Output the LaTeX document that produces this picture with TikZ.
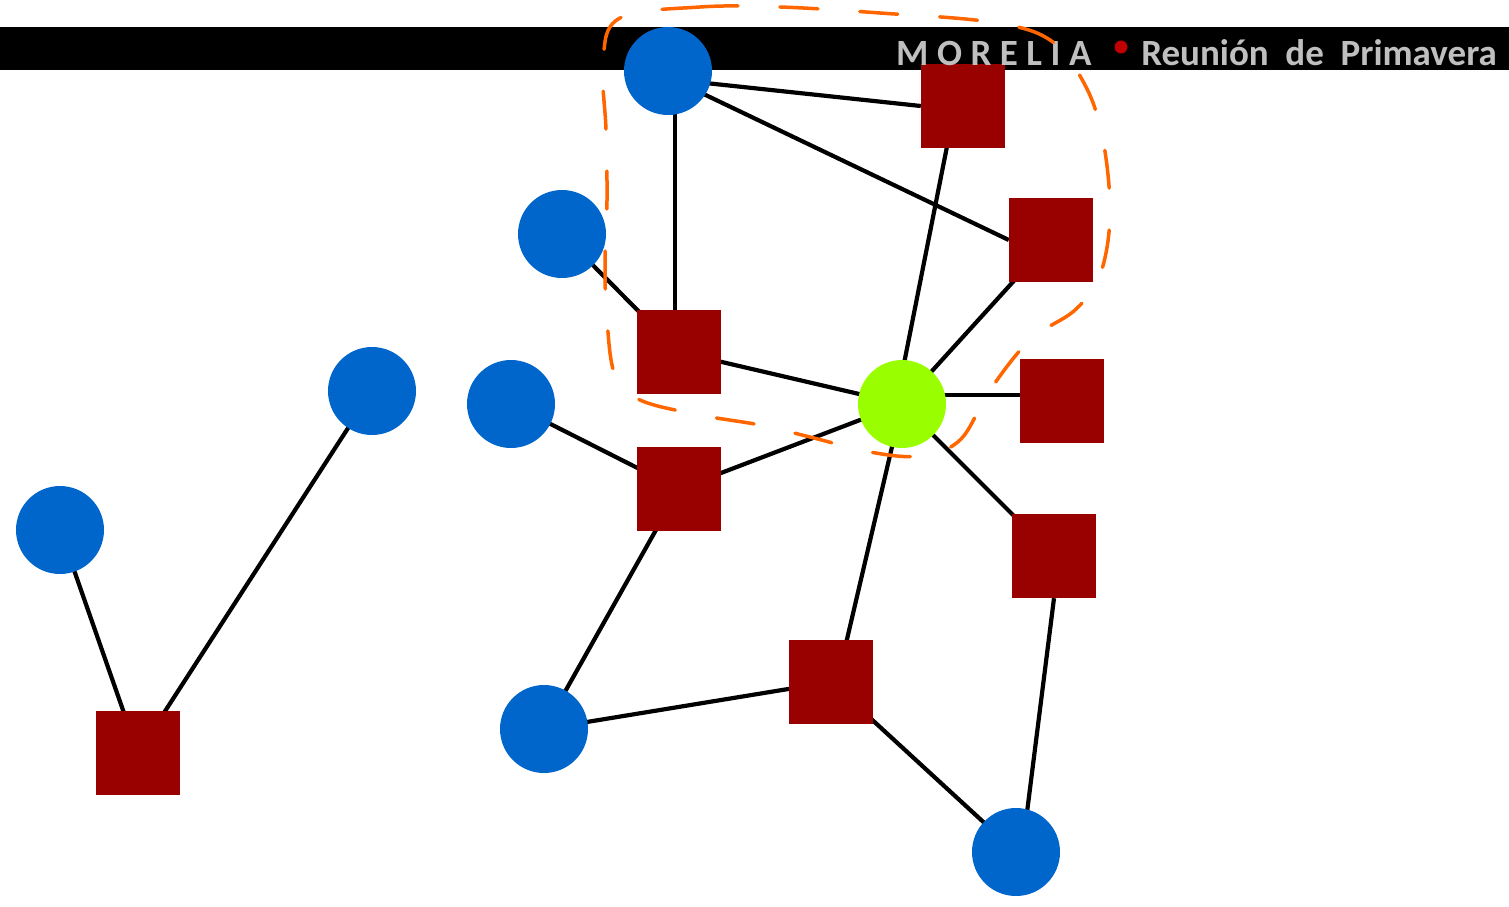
\documentclass[tikz,border=0pt]{standalone}
\usepackage{fontspec}
\setmainfont{Carlito}
\newfontfamily\headfont[LetterSpace=23]{Carlito}
\usetikzlibrary{backgrounds}
\definecolor{nodeblue}{RGB}{0,102,204}
\definecolor{nodered}{RGB}{153,0,0}
\definecolor{nodegreen}{RGB}{153,255,0}
\definecolor{looporange}{RGB}{255,102,0}
\definecolor{headgray}{RGB}{191,191,191}
\definecolor{dotred}{RGB}{192,0,0}
\tikzset{
  agent/.style={circle, fill=nodeblue, draw=none, inner sep=0pt, minimum size=88pt},
  focus/.style={circle, fill=nodegreen, draw=none, inner sep=0pt, minimum size=88pt},
  item/.style={rectangle, fill=nodered, draw=none, inner sep=0pt, minimum size=84pt},
  link/.style={black, line width=4.2pt},
  headtext/.style={text=headgray, font=\bfseries\fontsize{37}{40}\selectfont, inner sep=0pt}
}
\begin{document}
\begin{tikzpicture}[x=1pt, y=-1pt]
\useasboundingbox (0,0) rectangle (1509,907);

% nodes
\node[agent] (b1) at (668,71) {};
\node[agent] (b2) at (562,234) {};
\node[agent] (b3) at (372,391) {};
\node[agent] (b4) at (511,404) {};
\node[agent] (b5) at (60,530) {};
\node[agent] (b6) at (544,729) {};
\node[agent] (b7) at (1016,852) {};
\node[focus] (g) at (902,404) {};
\node[item] (r1) at (963,106) {};
\node[item] (r2) at (1051,240) {};
\node[item] (r3) at (679,352) {};
\node[item] (r4) at (1062,401) {};
\node[item] (r5) at (679,489) {};
\node[item] (r6) at (1054,556) {};
\node[item] (r7) at (831,682) {};
\node[item] (r8) at (138,753) {};

\begin{scope}[on background layer]
  % header bar
  \fill[black] (0,27) rectangle (1509,70);
  % connections
  \draw[link] ([yshift=-8pt]b1.center) -- (r1.west);
  \draw[link] ([yshift=-6pt]b1.center) -- (r2.west);
  \draw[link] ([xshift=7pt]b1.center) -- ([xshift=-4pt]r3.center);
  \draw[link] (b2.center) -- (r3.center);
  \draw[link] (r3.center) -- (g.center);
  \draw[link] ([xshift=-8pt]r1.center) -- ([xshift=-6pt]g.center);
  \draw[link] (r2.center) -- (g.center);
  \draw[link] ([yshift=9pt]g.center) -- ([yshift=6pt]r4.center);
  \draw[link] (g.center) -- (r5.center);
  \draw[link] (b4.center) -- (r5.center);
  \draw[link] (r5.center) -- (b6.center);
  \draw[link] (g.center) -- ([xshift=6pt]r7.center);
  \draw[link] (g.center) -- (r6.center);
  \draw[link] (r7.center) -- (b6.center);
  \draw[link] (r7.center) -- (b7.center);
  \draw[link] (r6.south) -- ([xshift=6pt]b7.center);
  \draw[link] (b5.center) -- (r8.center);
  \draw[link] (b3.center) -- (r8.center);
\end{scope}

% header text
\node[headtext, anchor=base west] (city) at (896,66) {\headfont MORELIA};
\node[circle, fill=dotred, inner sep=0pt, minimum size=13pt] (dot) at (1121,47) {};
\node[headtext, anchor=base east] (event) at (1497,66) {Reunión\ \ de\ \ Primavera};

% hand-drawn neighbourhood outline
\draw[looporange, line width=3.5pt, line cap=round, dash pattern=on 38pt off 42pt]
  plot[smooth cycle, tension=0.6] coordinates {
    (620,18) (700,7) (780,7) (880,13) (990,22) (1050,40) (1085,85)
    (1103,140) (1110,215) (1100,275) (1075,310) (1030,340) (990,390)
    (960,440) (920,456) (870,452) (810,437) (760,425) (700,415)
    (640,400) (615,375) (607,320) (605,265) (607,200) (606,130) (603,60)
  };
\end{tikzpicture}
\end{document}
